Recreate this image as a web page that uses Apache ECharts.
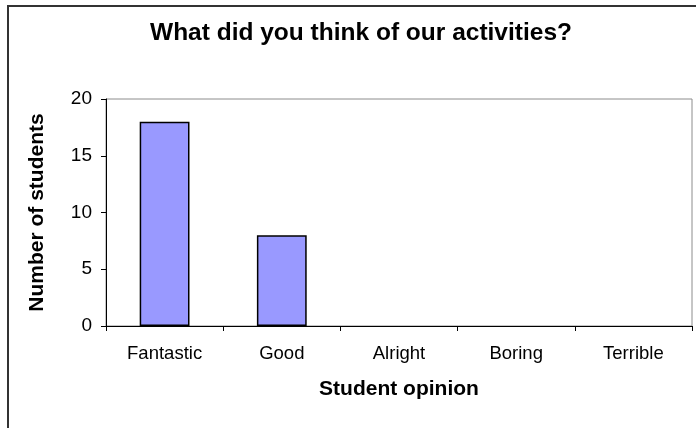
<!DOCTYPE html>
<html>
<head>
<meta charset="utf-8">
<script src="https://cdn.jsdelivr.net/npm/echarts@6/dist/echarts.min.js"></script>
<style>
  html, body { margin: 0; padding: 0; background: #fff; }
  #chart { width: 696px; height: 428px; }
</style>
</head>
<body>
<div id="chart"></div>
<script>
// Survey responses: how students rated the activities
const categories = ['Fantastic', 'Good', 'Alright', 'Boring', 'Terrible'];
const studentCounts = [18, 8, 0, 0, 0];
const yTicks = { min: 0, max: 20, interval: 5 };

const FONT = '"Liberation Sans", Arial, sans-serif';

// Empty categories get no outline so no stray stroke sits on the axis
const barData = studentCounts.map(v => ({
  value: v,
  itemStyle: v === 0 ? { borderWidth: 0 } : {}
}));

const chart = echarts.init(document.getElementById('chart'), null, { renderer: 'canvas' });

chart.setOption({
  animation: false,
  backgroundColor: '#ffffff',
  title: {
    text: 'What did you think of our activities?',
    left: 356,
    top: 16,
    textAlign: 'center',
    textStyle: { fontFamily: FONT, fontSize: 24.5, fontWeight: 'bold', color: '#000' }
  },
  graphic: [{
    type: 'rect',
    shape: { x: 8, y: 6, width: 800, height: 600 },
    style: { fill: 'none', stroke: '#333', lineWidth: 2 },
    silent: true
  }],
  grid: {
    left: 106, right: 4, top: 99, bottom: 102,
    show: true, borderColor: '#8c8c8c', borderWidth: 1, backgroundColor: '#fff'
  },
  xAxis: {
    type: 'category',
    data: categories,
    name: 'Student opinion',
    nameLocation: 'middle',
    nameGap: 53,
    nameTextStyle: { fontFamily: FONT, fontSize: 21, fontWeight: 'bold', color: '#000' },
    axisLine: { show: true, lineStyle: { color: '#000', width: 1 } },
    axisTick: { show: true, length: 5, alignWithLabel: false, lineStyle: { color: '#000' } },
    axisLabel: { fontFamily: FONT, fontSize: 18.5, color: '#000', margin: 18 },
    splitLine: { show: false }
  },
  yAxis: {
    type: 'value',
    min: yTicks.min, max: yTicks.max, interval: yTicks.interval,
    name: 'Number of students',
    nameLocation: 'middle',
    nameGap: 58,
    nameRotate: 90,
    nameTextStyle: { fontFamily: FONT, fontSize: 21, fontWeight: 'bold', color: '#000' },
    axisLine: { show: true, lineStyle: { color: '#000', width: 1 } },
    axisTick: { show: true, length: 5, lineStyle: { color: '#000' } },
    axisLabel: { fontFamily: FONT, fontSize: 19, color: '#000', margin: 14 },
    splitLine: { show: false }
  },
  series: [{
    type: 'bar',
    data: barData,
    barWidth: '42.5%',
    itemStyle: { color: '#9999ff', borderColor: '#000', borderWidth: 1.5 }
  }]
});
</script>
</body>
</html>
